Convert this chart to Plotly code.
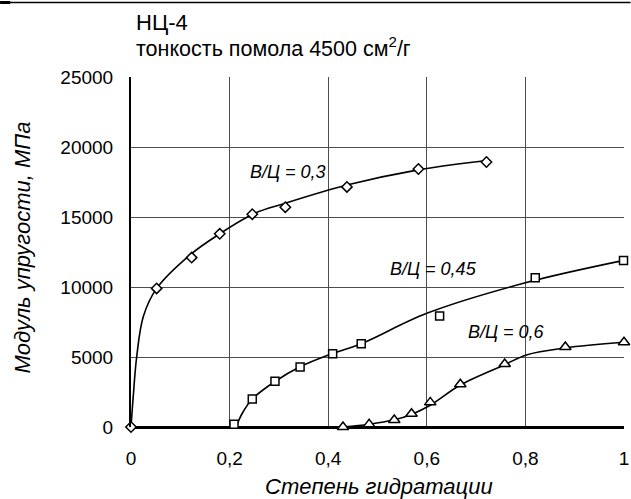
import plotly.graph_objects as go

# ---- data ----
# В/Ц = 0,3 (diamonds)
x03 = [0.0, 0.052, 0.123, 0.180, 0.246, 0.313, 0.438, 0.583, 0.721]
y03 = [0, 9900, 12100, 13800, 15200, 15700, 17150, 18430, 18930]
# fitted curve as drawn
cx03 = [0.0, 0.005, 0.0115, 0.025, 0.052, 0.12, 0.18, 0.25, 0.31, 0.44, 0.58, 0.725]
cy03 = [0, 2400, 5000, 7900, 9900, 12300, 13800, 15250, 15950, 17300, 18350, 19050]

# В/Ц = 0,45 (squares)
x045 = [0.209, 0.246, 0.292, 0.343, 0.409, 0.467, 0.626, 0.820, 0.999]
y045 = [200, 2000, 3260, 4290, 5240, 5950, 7930, 10660, 11900]
cx045 = [0.213, 0.226, 0.246, 0.292, 0.343, 0.409, 0.467, 0.60, 0.80, 1.0]
cy045 = [0, 1000, 2000, 3250, 4300, 5250, 5950, 8120, 10300, 11900]

# В/Ц = 0,6 (triangles)
x06 = [0.430, 0.483, 0.534, 0.569, 0.607, 0.668, 0.758, 0.881, 1.0]
y06 = [0, 190, 500, 950, 1760, 3050, 4500, 5710, 6050]
cx06 = [0.43, 0.483, 0.534, 0.569, 0.607, 0.668, 0.758, 0.802, 0.881, 1.0]
cy06 = [0, 200, 520, 900, 1550, 3000, 4450, 5150, 5650, 6050]

x_ticks = [0, 0.2, 0.4, 0.6, 0.8, 1.0]
x_ticktext = ["0", "0,2", "0,4", "0,6", "0,8", "1"]
y_ticks = [0, 5000, 10000, 15000, 20000, 25000]
y_ticktext = ["0", "5000", "10000", "15000", "20000", "25000"]

labels = ["В/Ц = 0,3", "В/Ц = 0,45", "В/Ц = 0,6"]
label_x = [0.318, 0.613, 0.761]
label_y = [18200, 11290, 6810]

FONT = "Liberation Sans, Arial, sans-serif"

fig = go.Figure()

for cx, cy in [(cx03, cy03), (cx045, cy045), (cx06, cy06)]:
    fig.add_trace(go.Scatter(x=cx, y=cy, mode="lines",
                             line=dict(color="black", width=1.6, shape="spline", smoothing=1.0),
                             cliponaxis=False, showlegend=False, hoverinfo="skip"))

for xs, ys, sym, sz in [(x03, y03, "diamond", 8), (x045, y045, "square", 8), (x06, y06, "triangle-up", 10)]:
    fig.add_trace(go.Scatter(x=xs, y=ys, mode="markers",
                             marker=dict(symbol=sym, size=sz, color="white",
                                         line=dict(color="black", width=1.5)),
                             cliponaxis=False, showlegend=False))

annotations = []
for t, lx, ly in zip(labels, label_x, label_y):
    annotations.append(dict(x=lx, y=ly, xref="x", yref="y", text="<i>" + t + "</i>",
                            showarrow=False,
                            font=dict(family=FONT, size=18, color="black"),
                            xanchor="center", yanchor="middle"))

# titles
annotations.append(dict(x=0.006, y=1.157, xref="paper", yref="paper", text="НЦ-4",
                        showarrow=False, xanchor="left", yanchor="middle",
                        font=dict(family=FONT, size=22, color="black")))
annotations.append(dict(x=0.006, y=1.086, xref="paper", yref="paper",
                        text="тонкость помола 4500 см<sup>2</sup>/г",
                        showarrow=False, xanchor="left", yanchor="middle",
                        font=dict(family=FONT, size=21.5, color="black")))
# axis titles
annotations.append(dict(x=0.5025, y=-0.171, xref="paper", yref="paper",
                        text="<i>Степень гидратации</i>", showarrow=False,
                        xanchor="center", yanchor="middle",
                        font=dict(family=FONT, size=22, color="black")))
annotations.append(dict(x=-0.2209, y=0.5129, xref="paper", yref="paper",
                        text="<i>Модуль упругости, МПа</i>", showarrow=False,
                        textangle=-90, xanchor="center", yanchor="middle",
                        font=dict(family=FONT, size=22, color="black")))

fig.update_layout(
    width=631, height=499,
    margin=dict(l=131, r=6.5, t=77, b=72, autoexpand=False),
    paper_bgcolor="white", plot_bgcolor="white",
    font=dict(family=FONT, size=19, color="black"),
    annotations=annotations,
    shapes=[
        dict(type="line", xref="paper", yref="paper", x0=-0.2655, x1=1.0132,
             y0=1.2129, y1=1.2129, line=dict(color="black", width=1.5)),
        dict(type="line", xref="paper", yref="paper", x0=-0.2655, x1=-0.245,
             y0=1.2129, y1=1.2129, line=dict(color="black", width=3)),
    ],
)

fig.update_xaxes(range=[0, 1], tickvals=x_ticks, ticktext=x_ticktext,
                 showgrid=True, gridcolor="#4d4d4d", gridwidth=1,
                 showline=False, zeroline=False, ticks="",
                 ticklabelstandoff=18,
                 tickfont=dict(family=FONT, size=19, color="black"))
fig.update_yaxes(range=[0, 25000], tickvals=y_ticks, ticktext=y_ticktext,
                 showgrid=True, gridcolor="#4d4d4d", gridwidth=1,
                 showline=True, linecolor="black", linewidth=2,
                 zeroline=True, zerolinecolor="black", zerolinewidth=2.5,
                 ticks="", ticklabelstandoff=12,
                 tickfont=dict(family=FONT, size=19, color="black"))

fig.write_html("out.html", config={"displayModeBar": False},
               post_script="document.body.style.margin='0';")
